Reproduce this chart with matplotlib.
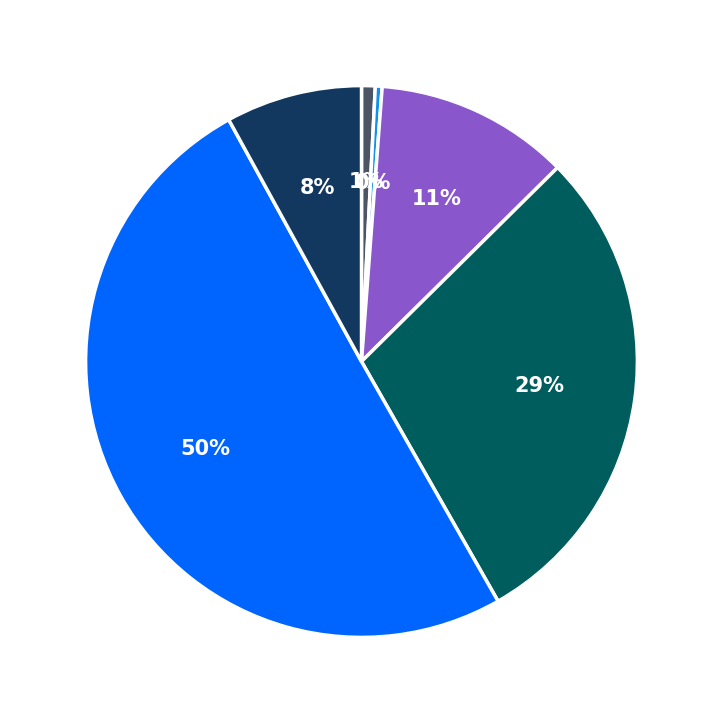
import matplotlib.pyplot as plt

labels = ["A", "B", "C", "D", "E", "F"]
values = [0.8, 0.4, 11.4, 29.2, 50.3, 8.0]
colors = ["#4b5563", "#1192e8", "#8a56cc", "#005d5d", "#0065ff", "#12385f"]

fig = plt.figure(figsize=(7.23, 7.23), dpi=100)
ax = fig.add_axes([0.023, 0.023, 0.954, 0.954])
wedges, texts, autotexts = ax.pie(
    values, colors=colors, startangle=90, counterclock=False,
    autopct="%.0f%%", pctdistance=0.65,
    wedgeprops=dict(edgecolor="white", linewidth=2.5),
    textprops=dict(color="white", fontsize=15, fontweight="bold"),
)
ax.set_aspect("equal")
fig.savefig("out.png", dpi=100)
